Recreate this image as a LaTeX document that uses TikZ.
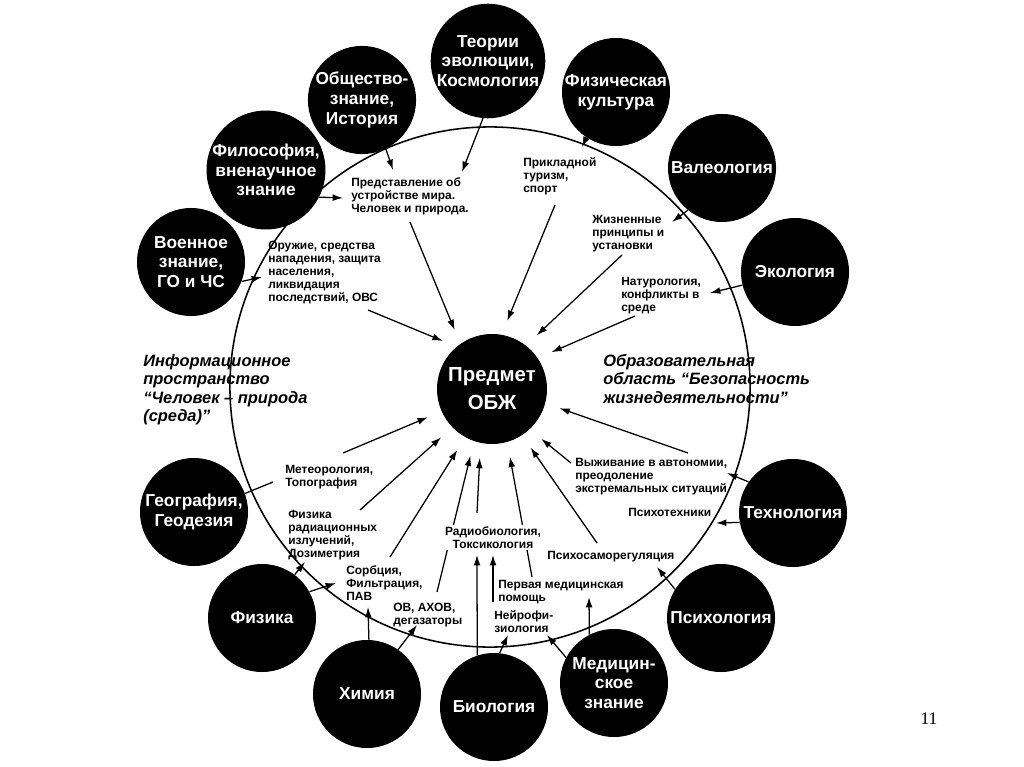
\documentclass[tikz,border=0pt]{standalone}
\usepackage{fontspec}
\setmainfont{Liberation Sans}
\newfontfamily\pagefont{Liberation Serif}
\usetikzlibrary{arrows.meta,backgrounds}

\begin{document}
\begin{tikzpicture}[
  x=0.025cm, y=-0.025cm,
  field/.style={circle, draw, line width=1.1pt, inner sep=0pt, minimum size=13cm},
  disc/.style={circle, fill=black, text=white, align=center, inner sep=0pt,
               minimum size=2.7cm, font=\bfseries\fontsize{12.3}{14}\selectfont},
  core/.style={circle, fill=black, text=white, align=center, inner sep=0pt,
               minimum size=2.75cm, font=\bfseries\fontsize{14.5}{20}\selectfont},
  note/.style={anchor=north west, align=left, inner sep=0pt,
               font=\bfseries\fontsize{8.5}{9.3}\selectfont},
  area/.style={anchor=north west, align=left, inner sep=0pt,
               font=\bfseries\itshape\fontsize{11.7}{13.2}\selectfont},
  feed/.style={-{Latex[length=2.6mm,width=1.7mm]}, line width=0.9pt},
  tocore/.style={feed, shorten >=3.7mm},
  tie/.style={line width=0.9pt},
]
\useasboundingbox (0,0) rectangle (1024,767);

% ---------------- FIELD ----------------
\node[field] (FIELD) at (490,387) {};

% ---------------- DISCS ----------------
\node[core] (OBZH) at (492,389) {Предмет\\ОБЖ};
\node[disc] (EVOL) at (488,61) {Теории\\эволюции,\\Космология};
\node[disc] (SOC) at (362,100) {Общество-\\знание,\\История};
\node[disc] (PHIL) at (266,170) {Философия,\\вненаучное\\знание};
\node[disc] (MIL) at (191,262) {Военное\\знание,\\ГО и ЧС};
\node[disc] (PHYSC) at (616,92) {Физическая\\культура};
\node[disc] (VAL) at (722,168) {Валеология};
\node[disc] (ECO) at (795,272) {Экология};
\node[disc] (TECH) at (793,513) {Технология};
\node[disc] (PSY) at (721,618) {Психология};
\node[disc] (MED) at (614,683) {Медицин-\\ское\\знание};
\node[disc] (BIO) at (494,707) {Биология};
\node[disc] (CHEM) at (367,694) {Химия};
\node[disc] (PHYS) at (262,618) {Физика};
\node[disc] (GEO) at (194,512) {География,\\Геодезия};

% ---------------- LABELS ----------------
\node[note] (WORLD) at (351,177) {Представление об\\устройстве мира.\\Человек и природа.};
\node[note] (ARMS) at (268,241) {Оружие, средства\\нападения, защита\\населения,\\ликвидация\\последствий, ОВС};
\node[note] (SPORT) at (523,157) {Прикладной\\туризм,\\спорт};
\node[note] (LIFE) at (592,215) {Жизненные\\принципы и\\установки};
\node[note] (NATUR) at (621,277) {Натурология,\\конфликты в\\среде};
\node[note] (METEO) at (285,465) {Метеорология,\\Топография};
\node[note] (RAD) at (288,510) {Физика\\радиационных\\излучений,\\Дозиметрия};
\node[note] (SORB) at (346,565) {Сорбция,\\Фильтрация,\\ПАВ};
\node[note] (OV) at (393,603) {ОВ, АХОВ,\\дегазаторы};
\node[note, anchor=north, align=center, fill=white, inner sep=1pt] (RADBIO)
  at (493,525) {Радиобиология,\\Токсикология};
\node[note] (AID) at (498,580) {Первая медицинская\\помощь};
\node[note] (NEURO) at (494,610) {Нейрофи-\\зиология};
\node[note] (SELF) at (547,551) {Психосаморегуляция};
\node[note] (SURV) at (575,458) {Выживание в автономии,\\преодоление\\экстремальных ситуаций};
\node[note] (PTECH) at (628,508) {Психотехники};

\node[area] (INFO) at (143,354) {Информационное\\пространство\\“Человек -- природа\\(среда)”};
\node[area] (EDU) at (603,354) {Образовательная\\область “Безопасность\\жизнедеятельности”};
\node[font=\pagefont\fontsize{12.5}{14}\selectfont] (PAGE) at (929,719) {11};

% ---------------- DISCS -> LABELS ----------------
\draw[feed] (SOC.-64) -- ([shift={(42,-7)}]WORLD.north west);
\draw[feed] (EVOL.-95) -- ([shift={(111,-5)}]WORLD.north west);
\draw[feed] (PHIL.-27) -- ([shift={(-8,21)}]WORLD.north west);
\draw[feed] (MIL.-21) -- ([shift={(-6,36)}]ARMS.north west);
\draw[feed] (PHYSC.-123) -- ([shift={(59,-10)}]SPORT.north west);
\draw[feed] (VAL.-129) -- ([shift={(80,7)}]LIFE.north west);
\draw[feed] (ECO.194) -- ([shift={(89,16)}]NATUR.north west);
\draw[feed] (TECH.145) -- ([shift={(152,15)}]SURV.north west);
\draw[feed] (TECH.190) -- ([shift={(88,15)}]PTECH.north west);
\draw[feed] (PSY.148) -- ([shift={(110,16)}]SELF.north west);
\draw[feed] (MED.117) -- ([shift={(91,17)}]AID.north west);
\draw[feed] (MED.152) -- ([shift={(53,25)}]NEURO.north west);
\draw[feed] (BIO.84) -- ([shift={(14,25)}]NEURO.north west);
\draw[feed] (BIO.108) -- ([shift={(-16,30)}]RADBIO.north);
\draw[feed] ([shift={(-1,-8)}]NEURO.north west) -- ([shift={(0,30)}]RADBIO.north);
\draw[feed] (CHEM.88) -- ([shift={(22,42)}]SORB.north west);
\draw[feed] (CHEM.55) -- ([shift={(24,22)}]OV.north west);
\draw[feed] (PHYS.53) -- ([shift={(17,52)}]RAD.north west);
\draw[feed] (PHYS.29) -- ([shift={(-10,18)}]SORB.north west);
\draw[tie] (GEO.20) -- ([shift={(-12,17)}]METEO.north west);

% ---------------- LABELS -> CORE ----------------
\begin{scope}[on background layer]
  \draw[tocore] ([shift={(59,45)}]WORLD.north west) -- (OBZH.125);
  \draw[tocore] ([shift={(100,69)}]ARMS.north west) -- (OBZH.130);
  \draw[tocore] ([shift={(32,48)}]SPORT.north west) -- (OBZH.80);
  \draw[tocore] ([shift={(30,40)}]LIFE.north west) -- (OBZH.52);
  \draw[tocore] ([shift={(14,39)}]NATUR.north west) -- (OBZH.34);
  \draw[tocore] ([shift={(113,-5)}]SURV.north west) -- (OBZH.-15);
  \draw[tocore] ([shift={(-4,5)}]SURV.north west) -- (OBZH.-47);
  \draw[tocore] ([shift={(50,-8)}]SELF.north west) -- (OBZH.-57);
  \draw[tocore] ([shift={(34,-3)}]AID.north west) -- (OBZH.-74);
  \draw[tocore] ([shift={(-16,-12)}]RADBIO.north) -- (OBZH.-102);
  \draw[tocore] ([shift={(44,-11)}]OV.north west) -- (OBZH.-109);
  \draw[tocore] ([shift={(44,-8)}]SORB.north west) -- (OBZH.-119);
  \draw[tocore] ([shift={(72,0)}]RAD.north west) -- (OBZH.-136);
  \draw[tocore] ([shift={(58,-12)}]METEO.north west) -- (OBZH.-156);
\end{scope}
\end{tikzpicture}
\end{document}
